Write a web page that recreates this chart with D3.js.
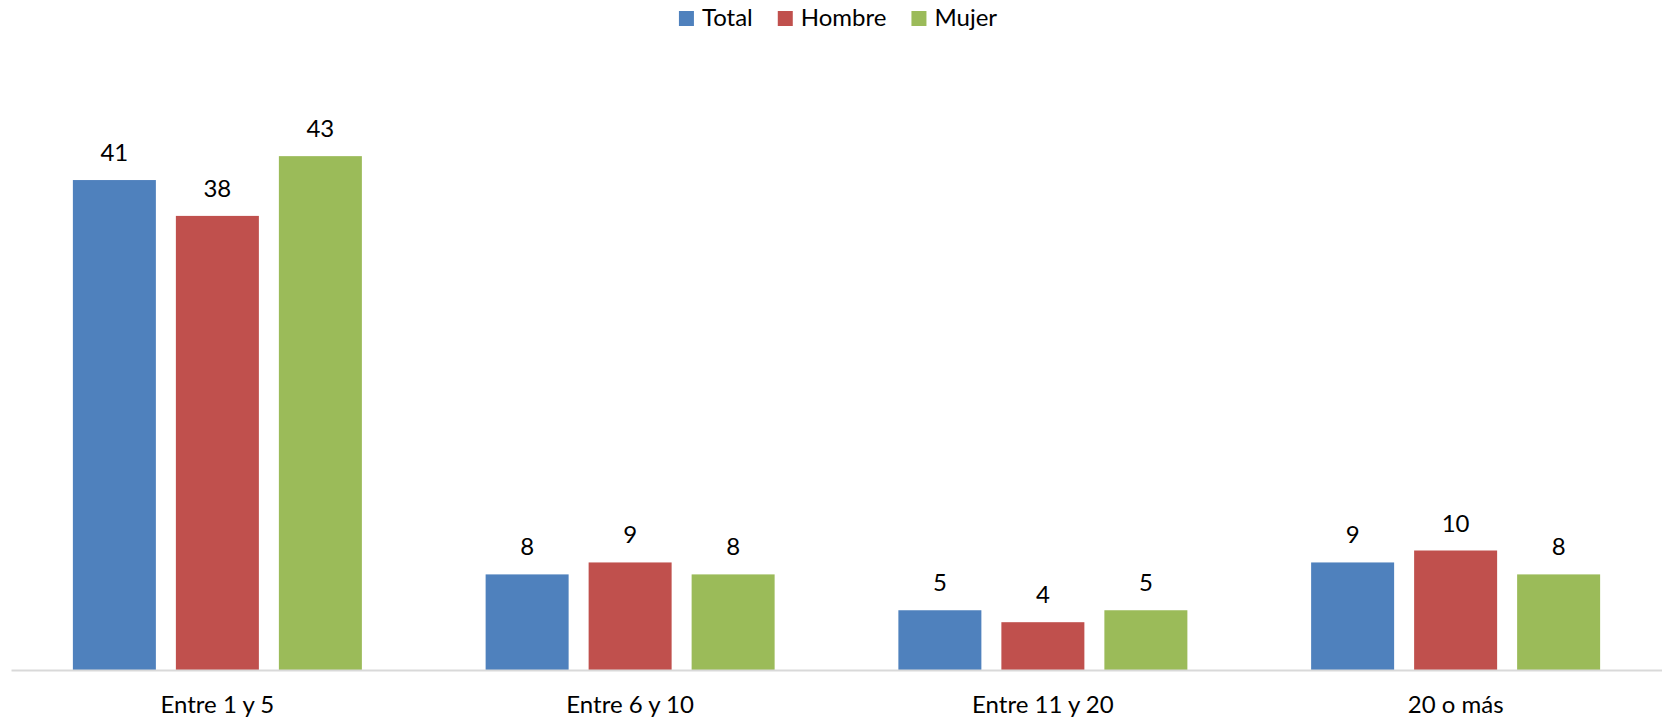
<!DOCTYPE html>
<html>
<head>
<meta charset="utf-8">
<script src="https://cdn.jsdelivr.net/npm/d3@7"></script>
<style>
  html, body { margin: 0; padding: 0; background: #fff; }
  svg { display: block; }
  text { font-family: Lato, "Open Sans", sans-serif; fill: #000; }
</style>
</head>
<body>
<svg id="chart" width="1662" height="718"></svg>
<script>
const categories = ["Entre 1 y 5", "Entre 6 y 10", "Entre 11 y 20", "20 o más"];
const seriesNames = ["Total", "Hombre", "Mujer"];
const total  = [41, 8, 5, 9];
const hombre = [38, 9, 4, 10];
const mujer  = [43, 8, 5, 8];
const colors = ["#4F81BD", "#C0504D", "#9BBB59"];
const seriesValues = [total, hombre, mujer];

const W = 1662, H = 718;
const svg = d3.select("#chart");
const fontSize = 24;

const baseY = 670;
const x0 = d3.scaleBand().domain(categories).range([11, 1662]).paddingInner(0).paddingOuter(0);
const bw = x0.bandwidth();
const groupW = 289;
const off = (bw - groupW) / 2;
const x1 = d3.scaleBand().domain(seriesNames).range([off, bw - off]).paddingInner(20 / 103).paddingOuter(0);
const y = d3.scaleLinear().domain([0, 45]).range([baseY, baseY - 45 * 11.95]);

// bars
const groups = svg.append("g").selectAll("g")
  .data(categories)
  .join("g")
  .attr("transform", d => `translate(${x0(d)},0)`);

groups.selectAll("rect")
  .data((c, i) => seriesNames.map((s, j) => ({ s, j, v: seriesValues[j][i] })))
  .join("rect")
  .attr("x", d => x1(d.s))
  .attr("width", x1.bandwidth())
  .attr("y", d => y(d.v))
  .attr("height", d => y(0) - y(d.v))
  .attr("fill", d => colors[d.j]);

groups.selectAll("text.lbl")
  .data((c, i) => seriesNames.map((s, j) => ({ s, j, v: seriesValues[j][i] })))
  .join("text")
  .attr("class", "lbl")
  .attr("x", d => x1(d.s) + x1.bandwidth() / 2)
  .attr("y", d => y(d.v) - 19)
  .attr("text-anchor", "middle")
  .style("font-size", fontSize + "px")
  .text(d => d.v);

// x axis
const xAxis = d3.axisBottom(x0).tickSize(0).tickPadding(0);
const ax = svg.append("g").attr("transform", `translate(0,${baseY})`).call(xAxis);
ax.select(".domain").attr("stroke", "#D9D9D9").attr("stroke-width", 2);
ax.selectAll(".tick text")
  .attr("dy", null)
  .attr("y", 43)
  .style("font-size", fontSize + "px")
  .style("font-family", "Lato, 'Open Sans', sans-serif")
  .attr("fill", "#000");

// legend
const leg = svg.append("g");
let cx = 0;
const items = [];
seriesNames.forEach((s, i) => {
  const g = leg.append("g").attr("transform", `translate(${cx},0)`);
  g.append("rect").attr("x", 0).attr("y", 11).attr("width", 15).attr("height", 15).attr("fill", colors[i]);
  const t = g.append("text").attr("x", 23).attr("y", 26).style("font-size", fontSize + "px").text(s);
  const tw = t.node().getComputedTextLength();
  cx += 23 + tw + 25;
});
const legW = cx - 25;
leg.attr("transform", `translate(${838 - legW / 2},0)`);
</script>
</body>
</html>
